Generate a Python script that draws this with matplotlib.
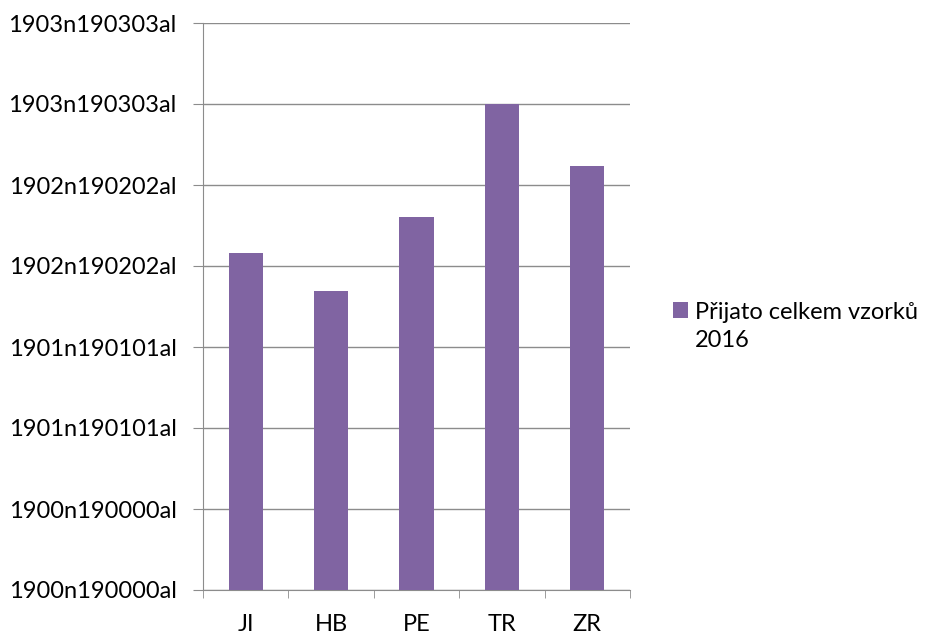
import numpy as np
from matplotlib import pyplot as plt

regions = ["JI", "HB", "PE", "TR", "ZR"]
samples = [4.16, 3.69, 4.60, 6.0, 5.23]
tick_labels = ["1900n190000al", "1900n190000al", "1901n190101al", "1901n190101al",
               "1902n190202al", "1902n190202al", "1903n190303al", "1903n190303al"]
series_name = "Přijato celkem vzorků\n2016"

plt.rcParams['font.family'] = ['Lato', 'DejaVu Sans']

fig = plt.figure(figsize=(9.3, 6.35), dpi=100)
ax = fig.add_axes([203 / 930, 45 / 635, 427 / 930, 567 / 635])

x = np.arange(len(regions))
ax.bar(x, samples, width=0.4, color="#8064A2", label=series_name, zorder=3)

ax.set_xlim(-0.5, len(regions) - 0.5)
ax.set_ylim(0, len(tick_labels) - 1)
ax.set_yticks(np.arange(len(tick_labels)))
ax.set_yticklabels(tick_labels)
ax.set_xticks(x)
ax.set_xticklabels(regions)
ax.set_xticks(np.arange(len(regions) + 1) - 0.5, minor=True)

grid_col = "#8c8c8c"
ax.yaxis.grid(True, color=grid_col, linewidth=1, zorder=0)
for side in ["top", "right"]:
    ax.spines[side].set_visible(False)
for side in ["left", "bottom"]:
    ax.spines[side].set_color(grid_col)
ax.tick_params(axis="y", length=7, color=grid_col, labelsize=17, pad=12)
ax.tick_params(axis="x", which="major", length=0, labelsize=17, pad=17)
ax.tick_params(axis="x", which="minor", length=5.5, color=grid_col)

leg = ax.legend(loc="center left", bbox_to_anchor=(1.05, 0.465), frameon=False,
                fontsize=17, handlelength=0.65, handleheight=0.65, handletextpad=0.3)
for t in leg.get_texts():
    t.set_linespacing(1.45)
# put the marker beside the first line of the wrapped label
patch = leg.get_patches()[0]
patch.set_y(patch.get_y() + 12)

fig.savefig("out.png", dpi=100)
